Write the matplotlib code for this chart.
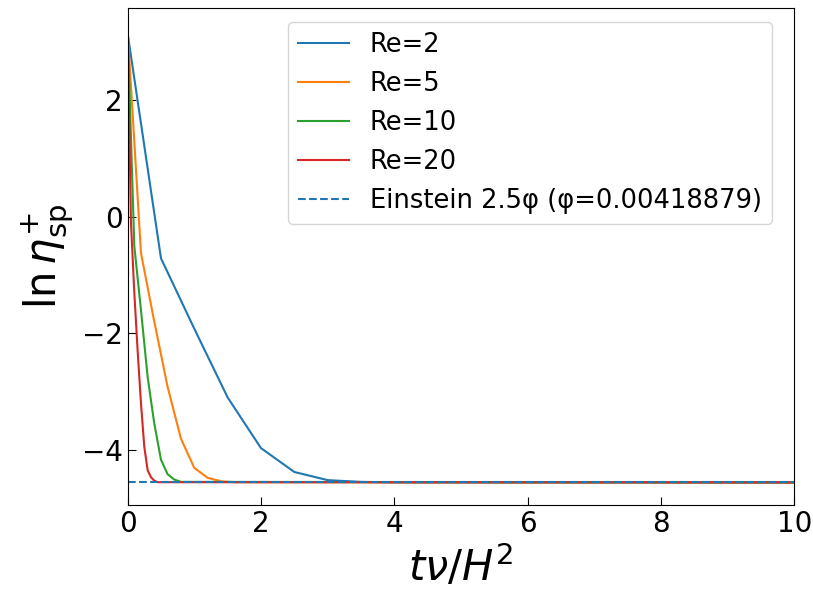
import matplotlib
matplotlib.use("Agg")
import matplotlib.pyplot as plt
import numpy as np

# sampled curves (t nu / H^2, ln eta_sp^+)
t_re2 = [0.0, 0.5, 1.0, 1.5, 2.0, 2.5, 3.0, 3.5, 4.0, 10.0]
y_re2 = [3.15, -0.71, -1.92, -3.1, -3.97, -4.38, -4.52, -4.55, -4.559, -4.559]

t_re5 = [0.0, 0.2, 0.4, 0.6, 0.8, 1.0, 1.2, 1.4, 1.6, 10.0]
y_re5 = [3.2, -0.62, -1.8, -2.92, -3.81, -4.31, -4.48, -4.54, -4.556, -4.559]

t_re10 = [0.0, 0.1, 0.2, 0.3, 0.4, 0.5, 0.6, 0.7, 0.8, 10.0]
y_re10 = [3.2, -0.5, -1.6, -2.75, -3.55, -4.17, -4.42, -4.51, -4.55, -4.559]

t_re20 = [0.0, 0.05, 0.1, 0.15, 0.2, 0.25, 0.3, 0.35, 0.4, 0.45, 10.0]
y_re20 = [3.2, -0.1, -1.3, -2.3, -3.2, -3.95, -4.35, -4.47, -4.53, -4.555, -4.559]

phi = 0.00418879
einstein = np.log(2.5 * phi)

fig, ax = plt.subplots(figsize=(8.13, 5.93), dpi=100)
fig.subplots_adjust(left=0.157, right=0.977, top=0.9865, bottom=0.1484)

ax.plot(t_re2, y_re2, color="tab:blue", label="Re=2")
ax.plot(t_re5, y_re5, color="tab:orange", label="Re=5")
ax.plot(t_re10, y_re10, color="tab:green", label="Re=10")
ax.plot(t_re20, y_re20, color="tab:red", label="Re=20")
ax.axhline(einstein, color="tab:blue", ls="--", label=f"Einstein 2.5φ (φ={phi})")

ax.set_xlim(0, 10)
ax.tick_params(direction="in", labelsize=20, length=6)
ax.set_xlabel(r"$t\nu/H^2$", fontsize=30)
ax.set_ylabel(r"$\ln\eta^{+}_{\rm sp}$", fontsize=30)
ax.legend(fontsize=18.5, labelspacing=0.5, loc="upper right",
          bbox_to_anchor=(772 / 813, 1 - 22 / 593), bbox_transform=fig.transFigure,
          borderaxespad=0)

fig.savefig("out.png", dpi=100)
